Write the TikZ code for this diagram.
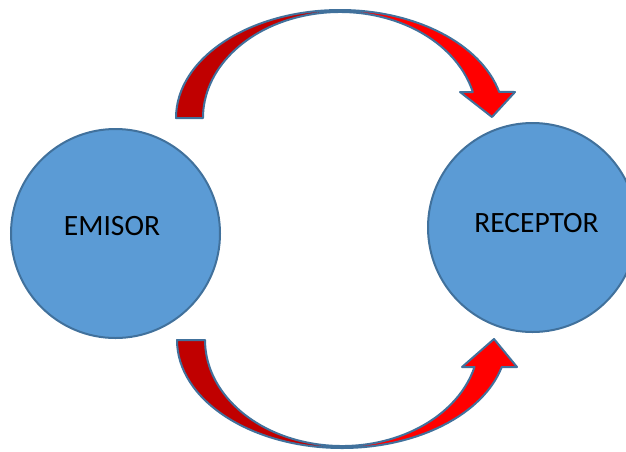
\documentclass[tikz,border=0pt]{standalone}
\usepackage{fontspec}
\setmainfont{Carlito}
\definecolor{bubblefill}{HTML}{5B9BD5}
\definecolor{bubbleline}{HTML}{41719C}
\definecolor{darkpart}{HTML}{C00000}
\definecolor{lightpart}{HTML}{FF0000}
\begin{document}
\begin{tikzpicture}[x=1pt, y=-1pt,
  bubble/.style={circle, draw=bubbleline, fill=bubblefill, line width=2pt, minimum size=209pt, inner sep=0pt},
  bubbletext/.style={font=\fontsize{29.5}{35}\selectfont, inner sep=0pt},
  backhalf/.style={fill=darkpart},
  fronthalf/.style={fill=lightpart},
  rim/.style={draw=bubbleline, line width=2pt, line join=round}]
\useasboundingbox (0,0) rectangle (626,451);
\clip (0,0) rectangle (626,451);

\node (emisor) [bubble] at (115.5,233.5) {};
\node (emisortext) [bubbletext] at ([xshift=-3.5pt, yshift=7.5pt]emisor.center) {EMISOR};

\node (receptor) [bubble] at (532.5,227.5) {};
\node (receptortext) [bubbletext] at ([xshift=4pt, yshift=4.5pt]receptor.center) {RECEPTOR};

\path [backhalf] (176,118) arc[start angle=180, end angle=270, x radius=164, y radius=108]
  -- (340,12) arc[start angle=270, end angle=180, x radius=137, y radius=106] -- cycle;
\path [fronthalf] (340,10) arc[start angle=270, end angle=346, x radius=164, y radius=108]
  -- (515,92) -- (492,117) -- (460,92) -- (472.8,92)
  arc[start angle=345.8, end angle=270, x radius=137, y radius=106] -- cycle;
\path [rim] (176,118) arc[start angle=180, end angle=346, x radius=164, y radius=108]
  -- (515,92) -- (492,117) -- (460,92) -- (472.8,92)
  arc[start angle=345.8, end angle=180, x radius=137, y radius=106] -- cycle;

\path [backhalf] (177,340) arc[start angle=180, end angle=90, x radius=165, y radius=108]
  -- (342,446) arc[start angle=90, end angle=180, x radius=137, y radius=106] -- cycle;
\path [fronthalf] (342,448) arc[start angle=90, end angle=14.48, x radius=165, y radius=108]
  -- (517,367) -- (494,339) -- (462,367) -- (474.5,367)
  arc[start angle=14.76, end angle=90, x radius=137, y radius=106] -- cycle;
\path [rim] (177,340) arc[start angle=180, end angle=14.48, x radius=165, y radius=108]
  -- (517,367) -- (494,339) -- (462,367) -- (474.5,367)
  arc[start angle=14.76, end angle=180, x radius=137, y radius=106] -- cycle;
\end{tikzpicture}
\end{document}
